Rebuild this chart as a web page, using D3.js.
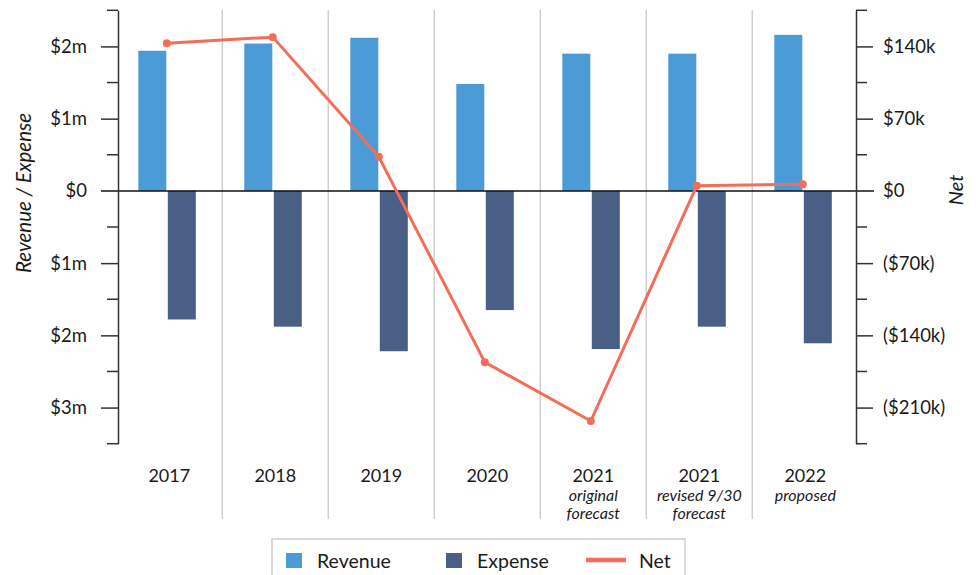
<!DOCTYPE html>
<html><head><meta charset="utf-8">
<script src="https://cdn.jsdelivr.net/npm/d3@7"></script>
<style>
html,body{margin:0;padding:0;background:#fff;}
svg{display:block;font-family:Lato,"Noto Sans",sans-serif;}
</style></head>
<body>
<svg id="chart" width="978" height="575"></svg>
<script>
const categories = ["2017","2018","2019","2020","2021o","2021r","2022"];
const catMain = ["2017","2018","2019","2020","2021","2021","2022"];
const catSub = [[],[],[],[],["original","forecast"],["revised 9/30","forecast"],["proposed"]];
const revenue = [1.94, 2.04, 2.12, 1.48, 1.90, 1.90, 2.16];   // $m
const expense = [1.78, 1.88, 2.22, 1.65, 2.19, 1.88, 2.11];   // $m
const net = [143, 149, 33, -166, -223, 5, 6.5];               // $k
const leftTicks = [-3, -2, -1, 0, 1, 2];
const leftMinor = [-3.5, -2.5, -1.5, -0.5, 0.5, 1.5, 2.5];
const rightTicks = [-210, -140, -70, 0, 70, 140];
const rightMinor = [-245, -175, -105, -35, 35, 105, 175];

const C_REV = "#4b9bd6", C_EXP = "#4a5f86", C_NET = "#f46d58", AX = "#333", TXT = "#1a1a1a";
const svg = d3.select("#chart");

const x = d3.scaleBand().domain(categories).range([116.3, 858.3]).padding(0);
const yL = d3.scaleLinear().domain([-3.5, 2.5]).range([443.7, 10.3]);
const yR = d3.scaleLinear().domain([-245, 175]).range([443.7, 10.3]);
const cx = c => x(c) + x.bandwidth() / 2;
const axL = 118, axR = 856;

// vertical grid lines at band boundaries
svg.append("g").selectAll("line").data(categories.slice(1)).join("line")
  .attr("x1", d => x(d)).attr("x2", d => x(d))
  .attr("y1", 10).attr("y2", 519)
  .attr("stroke", "#cfcfcf").attr("stroke-width", 1.5);

// bars
const bw = 28;
svg.append("g").selectAll("rect").data(categories).join("rect")
  .attr("x", (d) => cx(d) - 31).attr("width", bw)
  .attr("y", (d, i) => yL(revenue[i])).attr("height", (d, i) => yL(0) - yL(revenue[i]))
  .attr("fill", C_REV);
svg.append("g").selectAll("rect").data(categories).join("rect")
  .attr("x", (d) => cx(d) - 1.5).attr("width", bw)
  .attr("y", yL(0)).attr("height", (d, i) => yL(-expense[i]) - yL(0))
  .attr("fill", C_EXP);

// zero line
svg.append("line").attr("x1", 101).attr("x2", 874)
  .attr("y1", yL(0)).attr("y2", yL(0)).attr("stroke", "#111").attr("stroke-width", 1.5);

// left axis
const gL = svg.append("g").attr("transform", `translate(${axL},0)`);
const leftAxis = d3.axisLeft(yL).tickValues(leftTicks).tickSize(17).tickPadding(14)
  .tickFormat(d => d === 0 ? "$0" : "$" + Math.abs(d) + "m").tickSizeOuter(0);
gL.call(leftAxis);
gL.selectAll(".tick").filter(d => d === 0).select("line").remove();
gL.selectAll(".minor").data(leftMinor).join("line").attr("class", "minor")
  .attr("x1", -11).attr("x2", 0).attr("y1", d => yL(d)).attr("y2", d => yL(d))
  .attr("stroke", AX).attr("stroke-width", 1.5);

// right axis
const gR = svg.append("g").attr("transform", `translate(${axR},0)`);
const rightAxis = d3.axisRight(yR).tickValues(rightTicks).tickSize(17).tickPadding(10)
  .tickFormat(d => d === 0 ? "$0" : d < 0 ? "($" + Math.abs(d) + "k)" : "$" + d + "k").tickSizeOuter(0);
gR.call(rightAxis);
gR.selectAll(".tick").filter(d => d === 0).select("line").remove();
gR.selectAll(".minor").data(rightMinor).join("line").attr("class", "minor")
  .attr("x1", 0).attr("x2", 11).attr("y1", d => yR(d)).attr("y2", d => yR(d))
  .attr("stroke", AX).attr("stroke-width", 1.5);

[gL, gR].forEach(g => {
  g.select(".domain").attr("stroke", AX).attr("stroke-width", 1.5);
  g.selectAll(".tick line").attr("stroke", AX).attr("stroke-width", 1.5);
  g.selectAll(".tick text").attr("font-size", 18.5).attr("fill", TXT)
    .attr("font-family", "Lato, sans-serif");
});

// axis titles
svg.append("text").attr("transform", "translate(31,193) rotate(-90)")
  .attr("text-anchor", "middle").attr("font-size", 20.5).attr("font-style", "italic")
  .attr("fill", TXT).text("Revenue / Expense");
svg.append("text").attr("transform", "translate(963,190) rotate(-90)")
  .attr("text-anchor", "middle").attr("font-size", 20).attr("font-style", "italic")
  .attr("fill", TXT).text("Net");

// category labels
const gx = svg.append("g");
categories.forEach((c, i) => {
  gx.append("text").attr("x", cx(c)).attr("y", 481.5).attr("text-anchor", "middle")
    .attr("font-size", 18).attr("fill", TXT).text(catMain[i]);
  catSub[i].forEach((s, j) => {
    gx.append("text").attr("x", cx(c)).attr("y", 500.5 + j * 18).attr("text-anchor", "middle")
      .attr("font-size", 16).attr("font-style", "italic").attr("fill", TXT).text(s);
  });
});

// net line
const line = d3.line().x((d, i) => cx(categories[i]) - 2.5).y(d => yR(d));
svg.append("path").datum(net).attr("d", line).attr("fill", "none")
  .attr("stroke", C_NET).attr("stroke-width", 3).attr("stroke-linejoin", "round");
svg.append("g").selectAll("circle").data(net).join("circle")
  .attr("cx", (d, i) => cx(categories[i]) - 2.5).attr("cy", d => yR(d)).attr("r", 4)
  .attr("fill", C_NET);

// legend
const lg = svg.append("g");
lg.append("rect").attr("x", 272).attr("y", 539).attr("width", 413).attr("height", 60)
  .attr("fill", "#fff").attr("stroke", "#d0d0d0").attr("stroke-width", 1.5);
const legendItems = [
  {name: "Revenue", type: "rect", color: C_REV, sx: 286, tx: 317},
  {name: "Expense", type: "rect", color: C_EXP, sx: 446, tx: 477},
  {name: "Net", type: "line", color: C_NET, sx: 586, tx: 639}
];
legendItems.forEach(it => {
  if (it.type === "rect") {
    lg.append("rect").attr("x", it.sx).attr("y", 553).attr("width", 16).attr("height", 15).attr("fill", it.color);
  } else {
    lg.append("line").attr("x1", it.sx).attr("x2", it.sx + 40).attr("y1", 560).attr("y2", 560)
      .attr("stroke", it.color).attr("stroke-width", 4.5);
  }
  lg.append("text").attr("x", it.tx).attr("y", 567.5).attr("font-size", 19.5).attr("fill", TXT).text(it.name);
});
</script>
</body></html>
